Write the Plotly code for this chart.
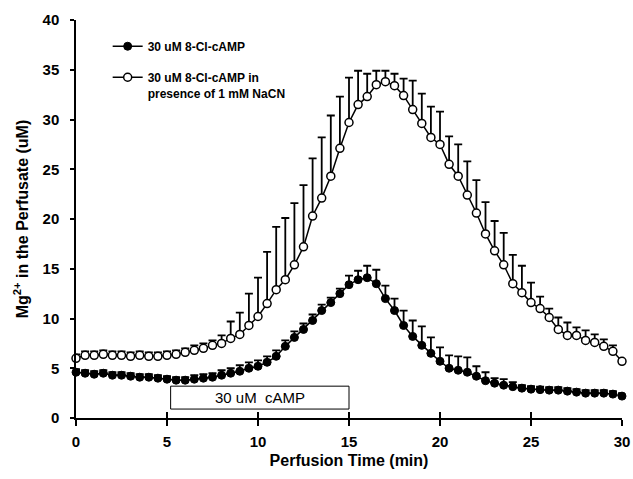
import plotly.graph_objects as go

time_min = [i * 0.5 for i in range(61)]

cl_camp_mean = [4.6, 4.5, 4.4, 4.5, 4.3, 4.3, 4.2, 4.1, 4.1, 4.0,
                3.9, 3.8, 3.8, 3.9, 4.0, 4.1, 4.3, 4.5, 4.7, 5.0,
                5.2, 5.6, 6.2, 7.2, 8.1, 8.9, 9.8, 10.8, 11.6, 12.5,
                13.4, 13.9, 14.1, 13.5, 12.0, 10.8, 9.3, 8.2, 7.3, 6.5,
                5.7, 5.0, 4.8, 4.6, 4.2, 3.75, 3.5, 3.3, 3.15, 3.0,
                2.9, 2.85, 2.8, 2.8, 2.7, 2.6, 2.5, 2.5, 2.5, 2.4, 2.2]
cl_camp_err = [0.3, 0.3, 0.3, 0.3, 0.3, 0.3, 0.3, 0.3, 0.3, 0.3,
               0.3, 0.3, 0.3, 0.4, 0.4, 0.4, 0.5, 0.5, 0.6, 0.6,
               0.6, 0.6, 0.6, 0.6, 0.6, 0.6, 0.6, 0.6, 0.5, 0.5,
               0.9, 0.9, 1.2, 1.4, 1.3, 1.2, 1.5, 1.6, 1.9, 1.6,
               1.4, 1.3, 1.4, 1.5, 1.0, 0.85, 0.5, 0.6, 0.45, 0.3,
               0.3, 0.3, 0.3, 0.3, 0.3, 0.3, 0.3, 0.3, 0.3, 0.3, 0.3]

nacn_mean = [6.0, 6.3, 6.3, 6.4, 6.3, 6.3, 6.2, 6.3, 6.2, 6.2,
             6.3, 6.4, 6.6, 6.8, 7.0, 7.3, 7.5, 8.0, 8.4, 9.3,
             10.2, 11.5, 12.9, 13.9, 15.4, 17.2, 20.3, 22.1, 24.3, 27.1,
             29.7, 31.5, 32.3, 33.5, 33.8, 33.4, 32.4, 31.0, 29.6, 28.2,
             27.5, 25.5, 24.3, 22.4, 20.6, 18.5, 16.8, 15.4, 13.5, 12.6,
             11.6, 11.0, 10.1, 8.9, 8.3, 8.3, 7.8, 7.6, 7.2, 6.7, 5.7]
nacn_err = [0.4, 0.4, 0.4, 0.4, 0.4, 0.4, 0.4, 0.4, 0.4, 0.4,
            0.4, 0.4, 0.4, 0.5, 0.5, 0.5, 0.8, 1.7, 2.2, 3.2,
            3.9, 5.2, 6.3, 6.2, 6.2, 6.2, 5.8, 6.1, 6.1, 5.2,
            4.5, 3.4, 2.3, 1.4, 1.1, 1.2, 1.7, 2.9, 3.0, 3.1,
            3.3, 2.8, 3.2, 3.4, 3.3, 3.2, 3.0, 3.2, 2.9, 2.7,
            2.0, 1.2, 0.9, 1.2, 1.3, 0.8, 1.0, 0.8, 0.7, 0.6, 0.3]

x_ticks = [0, 5, 10, 15, 20, 25, 30]
y_ticks = [0, 5, 10, 15, 20, 25, 30, 35, 40]

treatment_label = "30 uM  cAMP"
treatment_start, treatment_end = 5.2, 15.0
treatment_low, treatment_high = 0.9, 3.2

FONT = "Arial, Liberation Sans, sans-serif"
zeros = [0] * len(time_min)

fig = go.Figure()
fig.add_trace(go.Scatter(
    x=time_min, y=cl_camp_mean, mode="lines+markers",
    name="30 uM 8-Cl-cAMP", legendgroup="a",
    line=dict(color="black", width=1.5),
    marker=dict(symbol="circle", size=8, color="black", line=dict(color="black", width=1)),
    error_y=dict(type="data", symmetric=False, array=cl_camp_err, arrayminus=zeros,
                 color="black", thickness=1.8, width=4),
    cliponaxis=False,
))
fig.add_trace(go.Scatter(
    x=time_min, y=nacn_mean, mode="lines+markers",
    name="30 uM 8-Cl-cAMP in<br>presence of 1 mM NaCN", legendgroup="b",
    line=dict(color="black", width=1.5),
    marker=dict(symbol="circle", size=8, color="white", line=dict(color="black", width=1.5)),
    error_y=dict(type="data", symmetric=False, array=nacn_err, arrayminus=zeros,
                 color="black", thickness=1.8, width=4),
    cliponaxis=False,
))
fig.add_trace(go.Scatter(x=[0, 30], y=[None, None], xaxis="x2", showlegend=False, hoverinfo="skip"))

fig.add_shape(type="rect", xref="x", yref="y",
              x0=treatment_start, x1=treatment_end, y0=treatment_low, y1=treatment_high,
              line=dict(color="black", width=1), fillcolor="white", layer="below")
fig.add_annotation(x=(treatment_start + treatment_end) / 2, y=(treatment_low + treatment_high) / 2,
                   xref="x", yref="y", text=treatment_label, showarrow=False,
                   font=dict(family=FONT, size=15, color="black"))

fig.update_layout(
    width=633, height=479,
    margin=dict(l=76, r=11, t=20, b=61),
    plot_bgcolor="white", paper_bgcolor="white",
    font=dict(family=FONT, color="black"),
    showlegend=True,
    legend=dict(x=0.058, y=0.97, xanchor="left", yanchor="top", valign="top",
                bgcolor="rgba(0,0,0,0)",
                font=dict(family=FONT, size=12, color="black", weight="bold"),
                tracegroupgap=12, itemwidth=30),
    xaxis=dict(range=[0, 30], tickvals=x_ticks, ticks="outside", ticklen=6, tickwidth=1.5,
               tickcolor="black", showline=True, linecolor="black", linewidth=1.5,
               showgrid=False, zeroline=False, ticklabelstandoff=3, automargin=False,
               ticklabeloverflow="allow",
               tickfont=dict(family=FONT, size=15, color="black", weight="bold"),
               title=dict(text="Perfusion Time (min)",
                          font=dict(family=FONT, size=16, color="black", weight="bold"),
                          standoff=6)),
    xaxis2=dict(range=[0, 30], tickvals=x_ticks, ticks="inside", ticklen=6, tickwidth=1.5,
                tickcolor="black", overlaying="x", anchor="y", side="bottom", automargin=False,
                showticklabels=False, showgrid=False, zeroline=False, showline=False),
    yaxis=dict(range=[0, 40], tickvals=y_ticks, ticks="outside", ticklen=4, tickwidth=1.5,
               tickcolor="black", showline=True, linecolor="black", linewidth=1.5,
               showgrid=False, zeroline=False, ticklabelstandoff=8, automargin=False,
               tickfont=dict(family=FONT, size=15, color="black", weight="bold"),
               title=dict(text="Mg<sup>2+</sup> in the Perfusate (uM)",
                          font=dict(family=FONT, size=16, color="black", weight="bold"),
                          standoff=10)),
)

fig.write_html("out.html", config={"displayModeBar": False},
               post_script="document.body.style.margin='0px';document.body.style.overflow='hidden';")
